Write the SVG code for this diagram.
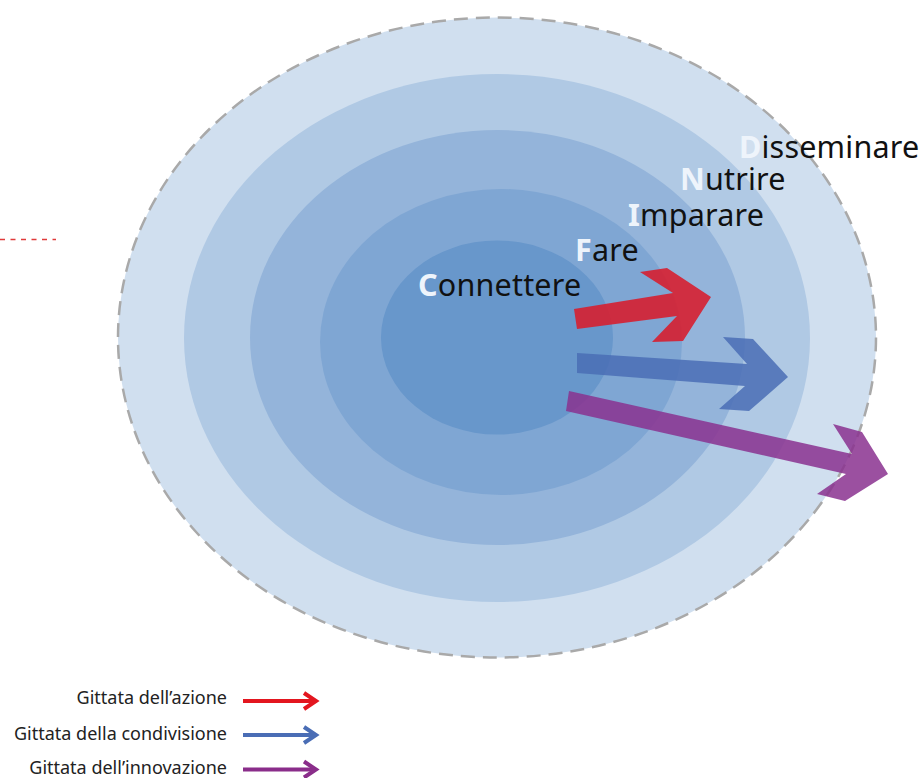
<svg xmlns="http://www.w3.org/2000/svg" width="919" height="778" viewBox="0 0 919 778">
<style>
.lbl{font-family:"Noto Sans","Open Sans","Liberation Sans",sans-serif;font-size:30.5px;letter-spacing:0.2px;fill:#111;}
.ini{fill:#eef4fb;font-weight:bold;}
.leg{font-family:"Noto Sans","Open Sans","Liberation Sans",sans-serif;font-size:18px;fill:#222;text-anchor:end;}
.la{fill:none;stroke-width:4;stroke-linecap:butt;}
</style>
<rect width="919" height="778" fill="#ffffff"/>
<line x1="0" y1="239.5" x2="56" y2="239.5" stroke="#e03a3a" stroke-width="1.4" stroke-dasharray="5 5.5"/>
<g id="ring-disseminare"><ellipse cx="497" cy="337.5" rx="379" ry="320" fill="#d0dfef" stroke="#a9a9a9" stroke-width="2.5" stroke-dasharray="14 8"/></g>
<g id="ring-nutrire"><ellipse cx="497" cy="338" rx="313" ry="264" fill="#b0c9e4"/></g>
<g id="ring-imparare"><ellipse cx="497.5" cy="337.5" rx="247.5" ry="207.5" fill="#94b4da"/></g>
<g id="ring-fare"><ellipse cx="501" cy="342" rx="181" ry="153" fill="#7fa6d3"/></g>
<g id="ring-connettere"><ellipse cx="497" cy="337.5" rx="116" ry="97" fill="#6897cb"/></g>
<g id="labels">
<text class="lbl" x="418" y="296"><tspan class="ini">C</tspan>onnettere</text>
<text class="lbl" x="575" y="261"><tspan class="ini">F</tspan>are</text>
<text class="lbl" x="628" y="226"><tspan class="ini">I</tspan>mparare</text>
<text class="lbl" x="680" y="190"><tspan class="ini">N</tspan>utrire</text>
<text class="lbl" x="739" y="158"><tspan class="ini">D</tspan>isseminare</text>
</g>
<g id="connectors">
<polygon id="arrow-azione" points="574,309 673,293 640,272 667,268 711,297 683,341 652,342 677,316 577,329" fill="#d61f30" fill-opacity="0.9"/>
<polygon id="arrow-condivisione" points="577,353 747,364 723,337 753,339 788,377 749,411 719,409 745,386 577,373" fill="#4a6db5" fill-opacity="0.85"/>
<polygon id="arrow-innovazione" points="569,391 852,454 833,424 862,432 888,474 845,501 817,494 846,474 566,411" fill="#8a318f" fill-opacity="0.85"/>
</g>
<g id="legend">
<text class="leg" x="227" y="704">Gittata dell’azione</text>
<line class="la" x1="243" y1="701" x2="315" y2="701" stroke="#e3161f"/>
<polyline class="la" points="304,693 316,701 304,709" stroke="#e3161f"/>
<text class="leg" x="227" y="740">Gittata della condivisione</text>
<line class="la" x1="243" y1="735" x2="315" y2="735" stroke="#4a6db5"/>
<polyline class="la" points="304,727 316,735 304,743" stroke="#4a6db5"/>
<text class="leg" x="227" y="774">Gittata dell’innovazione</text>
<line class="la" x1="243" y1="769.5" x2="315" y2="769.5" stroke="#8a2d8a"/>
<polyline class="la" points="304,761.5 316,769.5 304,777.5" stroke="#8a2d8a"/>
</g>
</svg>
